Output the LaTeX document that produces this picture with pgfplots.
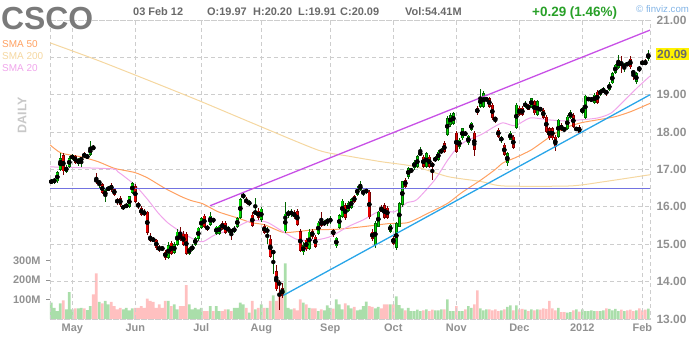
\documentclass[border=0pt]{standalone}
\usepackage{fontspec}
\setmainfont{Liberation Sans}
\usepackage{pgfplots}
\pgfplotsset{compat=1.18}
\usepackage{pgfplotstable}
\definecolor{upfill}{RGB}{0,215,0}
\definecolor{upedge}{RGB}{0,100,0}
\definecolor{dnfill}{RGB}{228,0,0}
\definecolor{dnedge}{RGB}{120,0,0}
\definecolor{volup}{RGB}{170,222,170}
\definecolor{voldn}{RGB}{255,192,192}
\definecolor{smatwenty}{RGB}{240,165,235}
\definecolor{smafifty}{RGB}{255,160,96}
\definecolor{smatwohundred}{RGB}{245,215,160}
\definecolor{trendtop}{RGB}{200,80,230}
\definecolor{trendlow}{RGB}{40,165,232}
\definecolor{hlinec}{RGB}{115,115,225}
\definecolor{lbl}{RGB}{145,145,145}
\definecolor{hdr}{RGB}{105,105,105}
\definecolor{gridc}{RGB}{205,205,205}
\definecolor{chg}{RGB}{40,160,40}
\definecolor{fvz}{RGB}{130,180,230}
\definecolor{tick}{RGB}{122,122,122}
\definecolor{daily}{RGB}{200,200,200}

\pgfplotstableread{
i o h l c v
0 16.65 16.75 16.60 16.70 84
1 16.68 16.76 16.62 16.72 58
2 16.68 16.95 16.65 16.92 41
3 17.00 17.45 16.95 17.30 81
5 16.94 17.12 16.90 17.08 50
6 17.07 17.35 17.05 17.31 139
7 17.28 17.42 17.25 17.39 50
9 17.15 17.32 17.10 17.28 55
10 17.26 17.32 17.08 17.29 58
12 17.30 17.42 17.28 17.39 46
13 17.39 17.75 17.36 17.60 67
16 16.64 16.72 16.50 16.67 88
18 16.28 16.50 16.14 16.45 93
19 16.47 16.55 16.42 16.50 76
24 15.95 16.06 15.92 16.03 50
25 16.00 16.10 15.96 16.05 58
26 16.00 16.30 15.98 16.28 45
27 16.37 16.66 16.35 16.64 55
39 14.64 15.05 14.60 14.98 93
41 14.77 15.05 14.75 15.00 76
42 14.98 15.40 14.95 15.34 50
46 14.74 14.93 14.72 14.90 76
47 14.85 15.00 14.82 14.95 50
48 14.98 15.20 14.95 15.17 58
49 15.14 15.47 15.10 15.44 50
50 15.44 15.72 15.40 15.70 58
53 15.52 15.85 15.50 15.76 67
55 15.28 15.50 15.25 15.47 67
56 15.28 15.52 15.25 15.50 41
59 15.35 15.50 15.30 15.45 50
61 15.35 15.48 15.30 15.42 58
62 15.47 15.72 15.44 15.70 58
63 15.70 16.25 15.68 16.21 84
64 16.26 16.38 16.22 16.32 76
66 16.05 16.18 16.02 16.15 33
68 15.80 16.25 15.78 15.90 50
70 15.65 16.00 15.60 15.95 76
72 15.33 15.45 15.00 15.40 58
74 14.76 14.85 14.20 14.82 122
78 15.35 16.12 15.30 15.82 287
79 15.80 15.92 15.70 15.85 58
80 15.80 15.95 15.72 15.88 50
84 14.78 15.05 14.72 14.98 84
86 14.88 15.40 14.85 15.34 58
89 15.28 15.62 15.25 15.58 41
91 15.52 15.65 15.48 15.60 45
92 15.58 15.70 15.50 15.66 70
93 15.60 15.75 15.55 15.68 58
95 14.95 15.20 14.90 15.17 101
96 15.44 15.82 15.40 15.78 76
97 15.74 16.22 15.70 16.17 50
99 15.90 16.15 15.85 16.10 70
100 15.97 16.25 15.95 16.20 55
102 16.32 16.55 16.30 16.50 45
103 16.45 16.70 16.42 16.60 48
104 16.38 16.45 16.30 16.42 67
105 16.40 16.50 16.35 16.45 90
108 14.98 15.62 14.90 15.57 55
109 15.47 15.90 15.45 15.87 62
113 15.34 15.55 15.30 15.52 76
115 14.90 15.60 14.85 15.57 116
116 15.47 16.12 15.45 16.10 72
117 16.05 16.70 16.00 16.68 55
119 16.81 17.08 16.75 17.04 58
120 16.95 17.05 16.90 17.00 41
121 17.04 17.25 17.00 17.21 41
122 17.07 17.38 17.04 17.35 48
123 17.40 17.60 17.38 17.45 40
125 17.07 17.47 17.04 17.44 50
128 17.25 17.35 17.20 17.30 45
129 17.26 17.52 17.22 17.48 45
130 17.45 17.58 17.42 17.52 50
132 17.93 18.42 17.90 18.38 101
133 18.19 18.50 18.15 18.46 41
134 18.22 18.55 18.20 18.50 41
136 17.60 17.85 17.55 17.80 41
137 17.84 18.12 17.80 18.10 41
139 17.70 17.92 17.65 17.90 67
140 18.06 18.28 18.02 18.25 58
143 18.68 19.15 18.65 18.95 55
144 18.68 19.10 18.65 19.04 45
145 18.85 18.95 18.82 18.90 50
150 17.78 17.90 17.72 17.85 45
152 17.17 17.46 17.10 17.44 62
153 17.80 18.02 17.78 17.98 70
155 18.11 18.78 18.08 18.73 70
158 18.68 18.82 18.65 18.78 48
160 18.68 18.92 18.65 18.90 50
162 18.46 18.85 18.44 18.82 50
169 17.88 18.36 17.85 18.33 58
172 18.09 18.45 18.05 18.41 33
173 18.38 18.58 18.35 18.55 36
175 18.05 18.15 18.02 18.12 50
177 18.51 18.68 18.48 18.65 50
178 18.38 19.00 18.35 18.97 40
179 18.85 18.95 18.82 18.92 40
180 18.82 18.95 18.80 18.92 45
181 18.78 19.05 18.75 19.00 40
183 19.00 19.15 18.98 19.13 40
184 19.08 19.20 19.05 19.15 45
186 19.13 19.33 19.10 19.30 52
187 19.31 19.60 19.28 19.58 45
188 19.58 19.82 19.55 19.80 52
189 19.72 20.06 19.70 19.93 40
191 19.72 19.85 19.60 19.82 40
195 19.34 19.62 19.28 19.58 45
199 19.97 20.20 19.91 20.09 54
}\uptab

\pgfplotstableread{
i o h l c v
4 17.39 17.45 16.85 16.95 96
8 17.36 17.40 17.15 17.18 55
11 17.42 17.46 17.30 17.34 55
14 17.60 17.66 17.52 17.55 127
15 16.75 16.90 16.60 16.67 235
17 16.61 16.65 16.35 16.37 81
20 16.59 16.65 16.40 16.45 88
21 16.48 16.50 16.30 16.32 67
22 16.21 16.25 16.05 16.10 50
23 16.24 16.28 16.00 16.05 58
28 16.56 16.60 16.10 16.14 58
29 16.10 16.12 15.95 16.00 58
30 15.97 16.02 15.75 15.79 67
31 15.87 15.95 15.75 15.79 58
32 15.87 15.90 15.25 15.30 105
33 15.22 15.30 15.05 15.09 93
34 15.15 15.20 15.05 15.09 88
35 15.12 15.15 14.85 14.90 58
36 14.92 14.98 14.80 14.85 76
37 14.92 14.96 14.82 14.85 58
38 14.80 14.85 14.58 14.64 93
40 15.04 15.08 14.70 14.74 67
43 15.30 15.47 15.10 15.12 67
44 15.28 15.35 14.95 14.98 67
45 15.28 15.32 14.72 14.74 174
51 15.76 15.80 15.44 15.47 41
52 15.49 15.52 15.35 15.39 41
54 15.67 15.70 15.58 15.63 41
57 15.57 15.62 15.38 15.40 41
58 15.58 15.62 15.28 15.30 50
60 15.38 15.42 15.12 15.30 41
65 16.21 16.26 16.08 16.10 58
67 15.79 15.85 15.45 15.50 93
69 15.90 15.97 15.65 15.70 58
71 15.50 15.55 15.28 15.30 58
73 15.15 15.25 14.62 14.66 93
75 14.28 14.45 13.75 13.80 93
76 13.98 14.05 13.25 13.92 136
77 13.82 13.95 13.55 13.62 153
81 15.85 15.92 15.68 15.72 55
82 15.88 15.95 15.50 15.52 45
83 15.35 15.40 14.78 14.82 101
85 15.12 15.18 14.82 14.86 76
87 15.35 15.40 15.15 15.20 55
88 15.20 15.25 14.90 14.94 55
90 15.63 15.85 15.45 15.50 50
94 15.38 15.42 15.20 15.25 53
98 16.05 16.10 15.65 15.70 81
101 16.28 16.32 16.10 16.14 62
106 16.41 16.45 15.68 15.72 67
107 15.34 15.40 15.10 15.14 62
110 16.00 16.05 15.85 15.87 55
111 16.05 16.10 15.68 15.70 76
112 15.98 16.02 15.68 15.70 76
114 15.17 15.22 14.98 15.01 76
118 16.72 16.78 16.50 16.54 45
124 17.34 17.38 17.05 17.07 45
126 17.34 17.38 17.05 17.07 41
127 17.15 17.20 16.72 17.10 48
131 17.70 17.75 17.44 17.47 50
135 17.98 18.02 17.45 17.47 67
138 17.98 18.02 17.90 17.94 50
141 17.98 18.02 17.35 17.52 76
142 18.65 18.70 18.45 18.50 148
146 18.90 18.95 18.65 18.68 50
147 18.73 18.78 18.32 18.38 45
148 18.38 18.40 18.25 18.33 50
149 18.06 18.10 17.85 17.88 41
151 17.66 17.70 17.35 17.39 50
154 17.88 17.92 17.55 17.58 45
156 18.65 18.70 18.42 18.46 50
157 18.65 18.70 18.42 18.46 52
159 18.73 18.76 18.58 18.60 40
161 18.82 18.86 18.45 18.50 45
163 18.64 18.68 18.56 18.58 48
164 18.60 18.65 18.35 18.38 55
165 18.41 18.45 17.98 18.01 52
166 18.10 18.14 17.80 17.84 93
167 18.10 18.14 17.80 17.84 55
168 17.88 17.92 17.50 17.61 45
170 18.19 18.25 18.02 18.06 36
171 18.10 18.14 18.02 18.04 36
174 18.46 18.50 18.12 18.15 45
176 18.14 18.18 17.96 17.99 38
182 19.08 19.12 18.74 18.78 40
185 19.10 19.14 18.98 19.03 55
190 19.86 20.05 19.59 19.82 48
192 19.84 19.88 19.76 19.80 45
193 19.96 20.05 19.70 19.74 48
194 19.62 19.66 19.40 19.58 40
196 19.72 19.76 19.60 19.68 55
197 19.87 19.92 19.80 19.83 45
198 19.87 19.95 19.80 19.83 48
}\dntab

\pgfplotstableread{
i p
-0.43 17.07
19.9 17.02
22.2 16.94
27.8 16.59
32.2 16.19
35.6 15.84
38.9 15.57
43.2 15.33
47.8 15.12
50.6 15.07
54.5 15.25
59.9 15.39
65.6 15.61
68.9 15.63
72.2 15.58
77.2 15.34
82.2 15.12
88.5 15.12
93.2 15.21
98.9 15.47
103.9 15.65
109.6 15.89
114.5 15.87
118.5 16.11
121.8 16.19
127.8 16.72
132.2 17.26
135.6 17.61
138.9 17.79
143.2 17.93
147.8 18.15
150.6 18.25
154.6 18.17
159.6 18.38
165.6 18.33
171.2 18.30
176.6 18.33
182.2 18.38
186.6 18.51
191.2 18.86
195.6 19.21
199.57 19.50
}\smaA

\pgfplotstableread{
i p
-0.43 17.66
3.3 17.44
9.9 17.34
15.6 17.21
21.1 17.03
27.8 16.92
32.2 16.77
37.8 16.50
43.2 16.28
46.6 16.17
50.6 16.08
55.6 15.87
62.2 15.70
66.6 15.58
71.1 15.52
77.2 15.32
82.2 15.34
87.8 15.39
95.1 15.40
103.9 15.47
112.2 15.55
118.9 15.58
125.6 15.83
132.2 16.10
136.6 16.37
143.2 16.72
147.8 16.99
150.6 17.18
154.5 17.31
159.9 17.52
165.6 17.84
171.1 18.11
176.6 18.25
182.2 18.33
187.8 18.41
193.2 18.55
199.57 18.77
}\smaB

\pgfplotstableread{
i p
-0.43 20.39
15.2 19.93
32.9 19.37
49.6 18.83
66.2 18.27
88.9 17.52
98.9 17.36
109.9 17.21
121.2 17.08
132.2 16.81
143.2 16.68
150.6 16.56
172.9 16.56
183.9 16.67
199.57 16.86
}\smaC

\begin{document}
\begin{tikzpicture}[x=1bp,y=1bp]
\useasboundingbox (0,0) rectangle (700,340);

% ---------- volume axis ----------
\begin{axis}[at={(50bp,21bp)}, anchor=south west, scale only axis,
  width=600bp, height=299bp,
  xmin=-0.43, xmax=199.57, ymin=0, ymax=1541,
  hide x axis, axis y line*=left,
  y axis line style={draw=none},
  ytick={100,200,300}, yticklabels={100M,200M,300M},
  tick align=outside, major tick length=4bp,
  ytick style={draw=lbl, line width=0.9bp},
  yticklabel style={font=\fontsize{11}{12}\selectfont\bfseries, text=lbl, xshift=-2bp},
  clip=false]
\addplot[ybar, bar width=2.6bp, bar shift=0pt, fill=volup, draw=none] table[x=i,y=v]{\uptab};
\addplot[ybar, bar width=2.6bp, bar shift=0pt, fill=voldn, draw=none] table[x=i,y=v]{\dntab};
\end{axis}

% ---------- price axis ----------
\begin{axis}[at={(50bp,21bp)}, anchor=south west, scale only axis,
  width=600bp, height=299bp,
  xmin=-0.43, xmax=199.57, ymin=13, ymax=21,
  axis line style={draw=gridc, dash pattern=on 4bp off 3bp, line width=0.9bp},
  xtick={7,28,50,70,93,114,135,156,177,197},
  xticklabels={May,Jun,Jul,Aug,Sep,Oct,Nov,Dec,2012,Feb},
  ytick={13,14,15,16,17,18,19,20,21},
  yticklabels={13.00,14.00,15.00,16.00,17.00,18.00,19.00,{},21.00},
  yticklabel pos=right,
  major tick length=0pt,
  grid=major, grid style={draw=gridc, dash pattern=on 4bp off 3bp, line width=0.9bp},
  xticklabel style={font=\fontsize{11}{12}\selectfont\bfseries, text=lbl, yshift=-1bp},
  yticklabel style={font=\fontsize{12}{13}\selectfont\bfseries, text=lbl, anchor=west, xshift=3bp},
  /pgf/number format/assume math mode=true]

\addplot[smatwohundred, line width=1bp, smooth, tension=0.4] table[x=i,y=p]{\smaC};
\addplot[smafifty, line width=1bp, smooth, tension=0.4] table[x=i,y=p]{\smaB};
\addplot[smatwenty, line width=1bp, smooth, tension=0.4] table[x=i,y=p]{\smaA};

% wicks
\addplot[only marks, mark=none, error bars/.cd, y dir=both, y explicit, error mark=none,
  error bar style={line width=0.8bp, draw=upedge}]
  table[x=i, y expr={(\thisrow{h}+\thisrow{l})/2}, y error expr={(\thisrow{h}-\thisrow{l})/2}]{\uptab};
\addplot[only marks, mark=none, error bars/.cd, y dir=both, y explicit, error mark=none,
  error bar style={line width=0.8bp, draw=dnedge}]
  table[x=i, y expr={(\thisrow{h}+\thisrow{l})/2}, y error expr={(\thisrow{h}-\thisrow{l})/2}]{\dntab};
% bodies outer
\addplot[only marks, mark=none, error bars/.cd, y dir=both, y explicit, error mark=none,
  error bar style={line width=2.7bp, draw=upedge}]
  table[x=i, y expr={(\thisrow{o}+\thisrow{c})/2}, y error expr={max(abs(\thisrow{c}-\thisrow{o})/2,0.016)}]{\uptab};
\addplot[only marks, mark=none, error bars/.cd, y dir=both, y explicit, error mark=none,
  error bar style={line width=2.7bp, draw=dnedge}]
  table[x=i, y expr={(\thisrow{o}+\thisrow{c})/2}, y error expr={max(abs(\thisrow{c}-\thisrow{o})/2,0.016)}]{\dntab};
% bodies inner
\addplot[only marks, mark=none, error bars/.cd, y dir=both, y explicit, error mark=none,
  error bar style={line width=1.6bp, draw=upfill}]
  table[x=i, y expr={(\thisrow{o}+\thisrow{c})/2}, y error expr={max(abs(\thisrow{c}-\thisrow{o})/2-0.016,0)}]{\uptab};
\addplot[only marks, mark=none, error bars/.cd, y dir=both, y explicit, error mark=none,
  error bar style={line width=1.6bp, draw=dnfill}]
  table[x=i, y expr={(\thisrow{o}+\thisrow{c})/2}, y error expr={max(abs(\thisrow{c}-\thisrow{o})/2-0.016,0)}]{\dntab};

% trend lines
\addplot[hlinec, line width=1.2bp] coordinates {(-0.43,16.5) (199.57,16.5)};
\addplot[trendtop, line width=1.3bp] coordinates {(52.9,16.03) (199.57,20.73)};
\addplot[trendlow, line width=1.3bp] coordinates {(77.3,13.63) (199.57,19.0)};
\end{axis}

% price highlight
\node[anchor=west, fill=yellow, inner xsep=1.5bp, inner ysep=1.5bp, text=hdr,
  font=\fontsize{12}{13}\selectfont\bfseries] at (655.5,286) {20.09};

% header
\node[anchor=base west, inner sep=0, text=tick, font=\fontsize{32}{32}\selectfont\bfseries] at (1,311) {CSCO};
\node[anchor=base west, inner sep=0, text=hdr, font=\fontsize{11}{12}\selectfont\bfseries] at (133,325) {03 Feb 12};
\node[anchor=base west, inner sep=0, text=hdr, font=\fontsize{11}{12}\selectfont\bfseries] at (207,325) {O:19.97};
\node[anchor=base west, inner sep=0, text=hdr, font=\fontsize{11}{12}\selectfont\bfseries] at (253,325) {H:20.20};
\node[anchor=base west, inner sep=0, text=hdr, font=\fontsize{11}{12}\selectfont\bfseries] at (298,325) {L:19.91};
\node[anchor=base west, inner sep=0, text=hdr, font=\fontsize{11}{12}\selectfont\bfseries] at (340,325) {C:20.09};
\node[anchor=base west, inner sep=0, text=hdr, font=\fontsize{11}{12}\selectfont\bfseries] at (405,325) {Vol:54.41M};
\node[anchor=base west, inner sep=0, text=chg, font=\fontsize{13.5}{14}\selectfont\bfseries] at (532,323.5) {+0.29 (1.46\%)};
\node[anchor=base west, inner sep=0, text=fvz, font=\fontsize{9.7}{11}\selectfont] at (636,328) {© finviz.com};

% legend
\node[anchor=base west, inner sep=0, text=smafifty, font=\fontsize{10}{12}\selectfont] at (2,293) {SMA 50};
\node[anchor=base west, inner sep=0, text=smatwohundred, font=\fontsize{10}{12}\selectfont] at (2,281) {SMA 200};
\node[anchor=base west, inner sep=0, text=smatwenty, font=\fontsize{10}{12}\selectfont] at (2,269) {SMA 20};

\node[rotate=90, inner sep=0, text=daily, font=\fontsize{12.5}{13}\selectfont\bfseries] at (22,225) {DAILY};
\end{tikzpicture}
\end{document}
